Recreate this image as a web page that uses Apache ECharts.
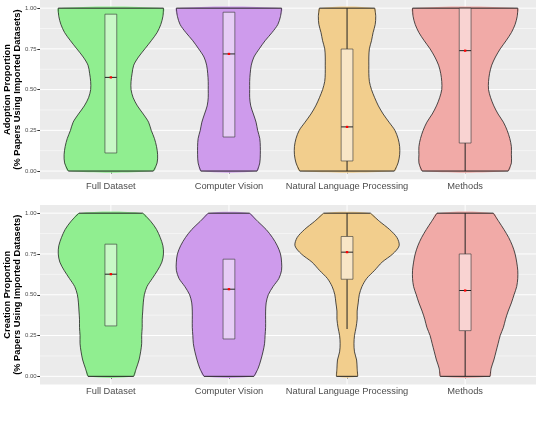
<!DOCTYPE html>
<html><head><meta charset="utf-8">
<script src="https://cdn.jsdelivr.net/npm/echarts@6/dist/echarts.min.js"></script>
<style>html,body{margin:0;padding:0;background:#fff}#c{width:536px;height:430px}</style>
</head><body><div id="c"></div>
<script>
// ---------- data ----------
const categories = ['Full Dataset', 'Computer Vision', 'Natural Language Processing', 'Methods'];
const yTicks = [0, 0.25, 0.5, 0.75, 1];
const yTickLabels = ['0.00', '0.25', '0.50', '0.75', '1.00'];
const yMinor = [0.125, 0.375, 0.625, 0.875];
// heights at which violin density (relative half-width) was read
const densityY = [0,0.05,0.1,0.15,0.2,0.25,0.3,0.35,0.4,0.45,0.5,0.55,0.6,0.65,0.7,0.75,0.8,0.85,0.9,0.95,1];

// Adoption proportion – relative violin widths (bottom to top)
const adoptFull    = [0.80,0.87,0.88,0.86,0.82,0.76,0.71,0.61,0.50,0.42,0.38,0.38,0.40,0.43,0.52,0.64,0.76,0.87,0.94,0.98,0.99];
const adoptCV      = [0.53,0.58,0.59,0.59,0.58,0.54,0.51,0.46,0.41,0.39,0.39,0.39,0.40,0.42,0.47,0.57,0.68,0.81,0.92,0.97,0.99];
const adoptNLP     = [0.89,0.96,0.99,0.99,0.96,0.90,0.79,0.68,0.59,0.52,0.46,0.42,0.41,0.41,0.41,0.42,0.46,0.49,0.53,0.54,0.52];
const adoptMethods = [0.81,0.87,0.87,0.87,0.84,0.79,0.72,0.62,0.54,0.48,0.44,0.44,0.46,0.50,0.57,0.66,0.77,0.87,0.94,0.98,0.99];
const adoptBoxLow   = [0.111, 0.209, 0.062, 0.172];
const adoptBoxHigh  = [0.963, 0.975, 0.749, 1.000];
const adoptMedian   = [0.575, 0.719, 0.271, 0.739];
const adoptWhiskLow = [0.111, 0.209, 0.000, 0.000];
const adoptWhiskHigh= [0.963, 0.975, 1.000, 1.000];

// Creation proportion
const creatFull    = [0.43,0.48,0.53,0.56,0.58,0.58,0.59,0.59,0.60,0.61,0.63,0.68,0.78,0.88,0.96,0.99,0.98,0.93,0.86,0.75,0.60];
const creatCV      = [0.47,0.55,0.60,0.64,0.67,0.68,0.69,0.69,0.69,0.70,0.74,0.83,0.94,0.99,0.99,0.97,0.91,0.82,0.70,0.54,0.39];
const creatNLP     = [0.20,0.19,0.18,0.14,0.13,0.14,0.17,0.19,0.19,0.21,0.23,0.28,0.37,0.52,0.66,0.86,0.98,0.94,0.80,0.61,0.44];
const creatMethods = [0.47,0.49,0.54,0.58,0.62,0.66,0.72,0.76,0.81,0.87,0.92,0.97,0.99,0.99,0.97,0.94,0.89,0.82,0.73,0.63,0.53];
const creatBoxLow   = [0.309, 0.229, 0.595, 0.280];
const creatBoxHigh  = [0.810, 0.718, 0.857, 0.750];
const creatMedian   = [0.626, 0.534, 0.761, 0.526];
const creatWhiskLow = [0.309, 0.229, 0.290, 0.000];
const creatWhiskHigh= [0.810, 0.718, 1.000, 1.000];

// ---------- styles ----------
const fillColors = ['#90EE90', '#CE9BEC', '#F2CE8D', '#F1AAA7'];
const boxColors  = ['#C8F8C6', '#E6CDF5', '#F8E6C7', '#F9D3D2'];
const HALF = 0.45, BOXHALF = 0.05, SM = 0.3;

function violinRender(dens, bLow, bHigh, med, wLow, wHigh) {
  return function (params, api) {
    const i = api.value(2);
    const xc = api.value(0);
    const d = dens[i];
    const left = densityY.map((y, k) => api.coord([xc - d[k] * HALF, y]));
    const right = densityY.map((y, k) => api.coord([xc + d[k] * HALF, y]));
    const poly = left.concat(right.slice().reverse());
    const n = densityY.length - 1;
    const ch = [];
    ch.push({ type: 'polygon', shape: { points: poly, smooth: SM }, style: { fill: fillColors[i], stroke: null } });
    ch.push({ type: 'polyline', shape: { points: left, smooth: SM }, style: { fill: null, stroke: '#222', lineWidth: 0.8 } });
    ch.push({ type: 'polyline', shape: { points: right, smooth: SM }, style: { fill: null, stroke: '#222', lineWidth: 0.8 } });
    ch.push({ type: 'line', shape: { x1: left[n][0], y1: left[n][1], x2: right[n][0], y2: right[n][1] }, style: { stroke: '#222', lineWidth: 1 } });
    ch.push({ type: 'line', shape: { x1: left[0][0], y1: left[0][1], x2: right[0][0], y2: right[0][1] }, style: { stroke: '#222', lineWidth: 1 } });
    const c = api.coord([xc, 0]);
    const pwl = api.coord([xc, wLow[i]]), pbl = api.coord([xc, bLow[i]]);
    const pwh = api.coord([xc, wHigh[i]]), pbh = api.coord([xc, bHigh[i]]);
    if (wLow[i] < bLow[i]) ch.push({ type: 'line', shape: { x1: c[0], y1: pwl[1], x2: c[0], y2: pbl[1] }, style: { stroke: '#222', lineWidth: 1 } });
    if (wHigh[i] > bHigh[i]) ch.push({ type: 'line', shape: { x1: c[0], y1: pwh[1], x2: c[0], y2: pbh[1] }, style: { stroke: '#222', lineWidth: 1 } });
    const tl = api.coord([xc - BOXHALF, bHigh[i]]);
    const br = api.coord([xc + BOXHALF, bLow[i]]);
    ch.push({ type: 'rect', shape: { x: tl[0], y: tl[1], width: br[0] - tl[0], height: br[1] - tl[1] }, style: { fill: boxColors[i], stroke: '#333', lineWidth: 0.6 } });
    const ml = api.coord([xc - BOXHALF, med[i]]), mr = api.coord([xc + BOXHALF, med[i]]);
    ch.push({ type: 'line', shape: { x1: ml[0], y1: ml[1], x2: mr[0], y2: mr[1] }, style: { stroke: '#222', lineWidth: 1 } });
    const mp = api.coord([xc, med[i]]);
    ch.push({ type: 'rect', shape: { x: mp[0] - 1.2, y: mp[1] - 1.1, width: 2.4, height: 2.2 }, style: { fill: '#FF0000' } });
    return { type: 'group', children: ch };
  };
}

function gridRender(params, api) {
  const cs = params.coordSys;
  const kind = api.value(2);
  if (kind === 2) {
    const p = api.coord([api.value(0), 0]);
    return { type: 'line', shape: { x1: p[0], y1: cs.y, x2: p[0], y2: cs.y + cs.height }, style: { stroke: '#fff', lineWidth: 1 } };
  }
  const p = api.coord([1, api.value(1)]);
  return { type: 'line', shape: { x1: cs.x, y1: p[1], x2: cs.x + cs.width, y2: p[1] }, style: { stroke: '#fff', lineWidth: kind === 0 ? 1 : 0.5 } };
}

const gridData = yTicks.map(v => [1, v, 0])
  .concat(yMinor.map(v => [1, v, 1]))
  .concat(categories.map((c, i) => [i + 1, 0, 2]));
const violinData = categories.map((c, i) => [i + 1, 0.5, i]);

const font = 'Liberation Sans, Arial, sans-serif';
function xAxisOf(gi) {
  return {
    type: 'value', gridIndex: gi, min: 0.4, max: 4.6,
    axisLine: { show: false }, splitLine: { show: false },
    axisTick: { show: true, customValues: [1, 2, 3, 4], length: 2.7, lineStyle: { color: '#333', width: 1 } },
    axisLabel: { customValues: [1, 2, 3, 4], formatter: v => categories[Math.round(v) - 1], margin: 2.5,
      color: '#4D4D4D', fontSize: 9.3, fontFamily: font }
  };
}
function yAxisOf(gi, title) {
  return {
    type: 'value', gridIndex: gi, min: -0.05, max: 1.05,
    axisLine: { show: false }, splitLine: { show: false },
    axisTick: { show: true, customValues: yTicks, length: 2.7, lineStyle: { color: '#333', width: 1 } },
    axisLabel: { customValues: yTicks, formatter: v => yTickLabels[yTicks.indexOf(v)] !== undefined ? yTickLabels[yTicks.indexOf(v)] : v.toFixed(2),
      margin: 3.3, color: '#4D4D4D', fontSize: 6, fontFamily: font },
    name: title, nameLocation: 'middle', nameRotate: 90, nameGap: 18, nameMoveOverlap: false,
    nameTextStyle: { fontSize: 9.3, fontWeight: 'bold', color: '#000', fontFamily: font, lineHeight: 10 }
  };
}

const chart = echarts.init(document.getElementById('c'), null, { renderer: 'canvas' });
chart.setOption({
  animation: false,
  backgroundColor: '#fff',
  grid: [
    { left: 40, right: 0, top: 0, height: 179.2, show: true, backgroundColor: '#EBEBEB', borderWidth: 0, containLabel: false, outerBoundsMode: 'none' },
    { left: 40, right: 0, top: 205, height: 179.5, show: true, backgroundColor: '#EBEBEB', borderWidth: 0, containLabel: false, outerBoundsMode: 'none' }
  ],
  xAxis: [xAxisOf(0), xAxisOf(1)],
  yAxis: [
    yAxisOf(0, 'Adoption Proportion\n(% Papers Using Imported Datasets)'),
    yAxisOf(1, 'Creation Proportion\n(% Papers Using Imported Datasets)')
  ],
  series: [
    { type: 'custom', xAxisIndex: 0, yAxisIndex: 0, z: 1, silent: true, renderItem: gridRender, data: gridData, encode: { x: 0, y: 1 } },
    { type: 'custom', xAxisIndex: 1, yAxisIndex: 1, z: 1, silent: true, renderItem: gridRender, data: gridData, encode: { x: 0, y: 1 } },
    { type: 'custom', xAxisIndex: 0, yAxisIndex: 0, z: 2, silent: true, data: violinData, encode: { x: 0, y: 1 },
      renderItem: violinRender([adoptFull, adoptCV, adoptNLP, adoptMethods], adoptBoxLow, adoptBoxHigh, adoptMedian, adoptWhiskLow, adoptWhiskHigh) },
    { type: 'custom', xAxisIndex: 1, yAxisIndex: 1, z: 2, silent: true, data: violinData, encode: { x: 0, y: 1 },
      renderItem: violinRender([creatFull, creatCV, creatNLP, creatMethods], creatBoxLow, creatBoxHigh, creatMedian, creatWhiskLow, creatWhiskHigh) }
  ]
});
</script>
</body></html>
